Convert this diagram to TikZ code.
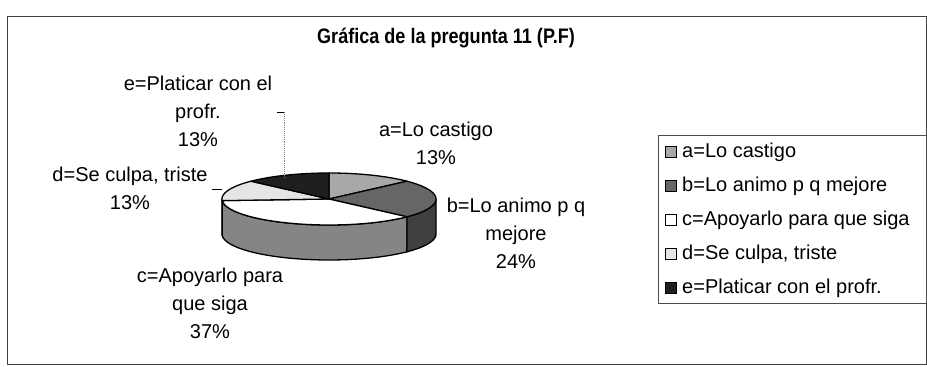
\documentclass[tikz,border=0pt]{standalone}
\usepackage{fontspec}
\setmainfont{Liberation Sans}
\usetikzlibrary{positioning}

\definecolor{aFill}{gray}{0.66}
\definecolor{bFill}{gray}{0.4}
\definecolor{cFill}{gray}{1.0}
\definecolor{dFill}{gray}{0.9}
\definecolor{eFill}{gray}{0.12}
\definecolor{cSide}{gray}{0.52}
\definecolor{bSide}{gray}{0.25}

\tikzset{
  lbl/.style={align=center, inner sep=0pt, font=\fontsize{20}{28}\selectfont},
  legtxt/.style={anchor=west, inner sep=0pt, font=\fontsize{20}{24}\selectfont},
  swatch/.style={draw=black, line width=1pt, minimum size=11pt, inner sep=0pt},
  pieline/.style={draw=black, line width=1.3pt, line join=round},
}

% pie: centre, radii, height
\def\cx{329}\def\cy{199}\def\rx{107}\def\ry{26}\def\hh{35}
\newcommand{\sidewall}[3]{%
  \filldraw[pieline, fill=#3]
    plot[domain=#1:#2, samples=30] ({\cx+\rx*cos(\x)},{\cy-\ry*sin(\x)})
    -- plot[domain=#2:#1, samples=30] ({\cx+\rx*cos(\x)},{\cy+\hh-\ry*sin(\x)}) -- cycle;}
\newcommand{\topslice}[3]{%
  \filldraw[pieline, fill=#3] (\cx,\cy)
    -- plot[domain=#1:#2, samples=30] ({\cx+\rx*cos(\x)},{\cy-\ry*sin(\x)}) -- cycle;}

\begin{document}
\begin{tikzpicture}[x=1pt, y=-1pt]
\useasboundingbox (0,0) rectangle (927,367);
\draw[line width=0.8pt, black!75] (7,16) rectangle (926,364);

\node[font=\bfseries\fontsize{21}{24}\selectfont] (title) at (446,38) {\scalebox{0.86}[1]{Gráfica de la pregunta 11 (P.F)}};

% side walls
\sidewall{180}{183.6}{cSide}
\sidewall{183.6}{316.8}{cSide}
\sidewall{316.8}{360}{bSide}

% top
\topslice{43.2}{90}{aFill}
\topslice{-43.2}{43.2}{bFill}
\topslice{183.6}{316.8}{cFill}
\topslice{136.8}{183.6}{dFill}
\topslice{90}{136.8}{eFill}

% labels
\node[lbl] (la) at (436,143) {a=Lo castigo\\13\%};
\node[lbl] (lb) at (516,233) {b=Lo animo p q\\mejore\\24\%};
\node[lbl] (lc) at (210,303) {c=Apoyarlo para\\que siga\\37\%};
\node[lbl] (ld) at (130,188) {d=Se culpa, triste\\13\%};
\node[lbl] (le) at (198,111) {e=Platicar con el\\profr.\\13\%};

\coordinate (eK) at (277,112);
\coordinate (eB) at (284,112);
\coordinate (eT) at (284,177);
\coordinate (dK) at (212,189);
\coordinate (dT) at (222,189);
\draw[black, line width=0.8pt] (eK) -- (eB);
\draw[gray, densely dotted, line width=0.9pt] (eB) -- (eT);
\draw[black, line width=0.8pt] (dK) -- (dT);

% legend
\draw[line width=0.8pt, black!70] (658,135) rectangle (926,303);
\foreach \col/\txt [count=\i] in {aFill/{a=Lo castigo}, bFill/{b=Lo animo p q mejore},
    cFill/{c=Apoyarlo para que siga}, dFill/{d=Se culpa, triste}, eFill/{e=Platicar con el profr.}} {
  \node[swatch, fill=\col] (sw\i) at (671,{118+34*\i}) {};
  \node[legtxt, right=5pt of sw\i] (lg\i) {\txt};
}
\end{tikzpicture}
\end{document}
